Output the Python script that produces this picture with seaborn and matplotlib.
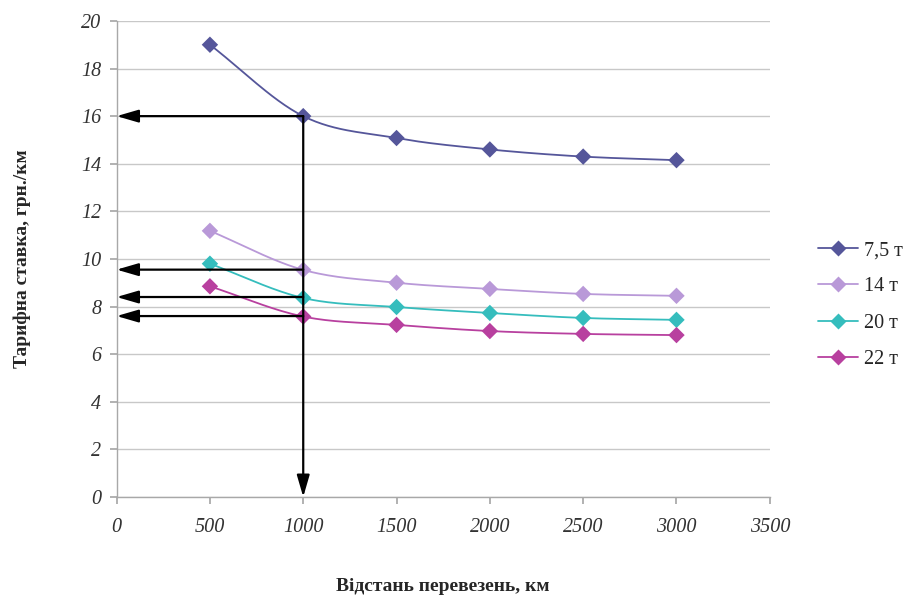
import numpy as np
import pandas as pd
import matplotlib
matplotlib.use("Agg")
import matplotlib.pyplot as plt
from matplotlib.lines import Line2D
import seaborn as sns

distance = [500, 1000, 1500, 2000, 2500, 3000]
series_names = ["7,5 т", "14 т", "20 т", "22 т"]
rate_7_5 = [19.0, 16.0, 15.08, 14.6, 14.3, 14.15]
rate_14 = [11.18, 9.54, 9.0, 8.74, 8.53, 8.45]
rate_20 = [9.8, 8.36, 7.98, 7.73, 7.52, 7.44]
rate_22 = [8.85, 7.58, 7.23, 6.97, 6.85, 6.8]
arrow_levels = [16.0, 9.55, 8.4, 7.6]
arrow_x = 1000
x_ticks = [0, 500, 1000, 1500, 2000, 2500, 3000, 3500]
y_ticks = [0, 2, 4, 6, 8, 10, 12, 14, 16, 18, 20]
colors = ["#55569A", "#B999D8", "#35BDBD", "#B8409F"]

sns.set_theme(style="white")
plt.rcParams["font.family"] = ["Liberation Serif", "DejaVu Serif"]

df = pd.DataFrame({
    "distance": distance * 4,
    "rate": rate_7_5 + rate_14 + rate_20 + rate_22,
    "series": sum([[n] * len(distance) for n in series_names], []),
})

fig = plt.figure(figsize=(9.11, 5.98), dpi=100)
ax = fig.add_axes([0.128, 0.169, 0.717, 0.796])


def catmull(xs, ys, n=30):
    xs = np.asarray(xs, float)
    ys = np.asarray(ys, float)
    px = np.concatenate([[2 * xs[0] - xs[1]], xs, [2 * xs[-1] - xs[-2]]])
    py = np.concatenate([[2 * ys[0] - ys[1]], ys, [2 * ys[-1] - ys[-2]]])
    ox, oy = [], []
    for i in range(1, len(px) - 2):
        t = np.linspace(0, 1, n, endpoint=False)
        for P, out in ((px, ox), (py, oy)):
            p0, p1, p2, p3 = P[i - 1], P[i], P[i + 1], P[i + 2]
            out.extend(0.5 * ((2 * p1) + (-p0 + p2) * t + (2 * p0 - 5 * p1 + 4 * p2 - p3) * t ** 2
                              + (-p0 + 3 * p1 - 3 * p2 + p3) * t ** 3))
    ox.append(xs[-1]); oy.append(ys[-1])
    return np.array(ox), np.array(oy)


for name, c in zip(series_names, colors):
    sub = df[df.series == name]
    sx, sy = catmull(sub.distance.values, sub.rate.values)
    ax.plot(sx, sy, color=c, lw=1.3, zorder=3)

sns.scatterplot(data=df, x="distance", y="rate", hue="series", palette=colors,
                marker="D", s=70, edgecolor="none", ax=ax, legend=False, zorder=4)

# arrows
astyle = "-|>,head_length=1.1,head_width=0.32"
for lvl in arrow_levels:
    ax.annotate("", xy=(0, lvl), xytext=(arrow_x, lvl),
                arrowprops=dict(arrowstyle=astyle, color="black", lw=1.6,
                                shrinkA=0, shrinkB=0), zorder=5)
ax.annotate("", xy=(arrow_x, 0), xytext=(arrow_x, arrow_levels[0]),
            arrowprops=dict(arrowstyle=astyle, color="black", lw=1.6,
                            shrinkA=0, shrinkB=0), zorder=5)

ax.set_xlim(0, 3500)
ax.set_ylim(0, 20)
ax.set_xticks(x_ticks)
ax.set_yticks(y_ticks)
ax.set_xticklabels([str(t) for t in x_ticks], fontstyle="italic", fontsize=14.5, color="#333333")
ax.set_yticklabels([str(t) for t in y_ticks], fontstyle="italic", fontsize=14.5, color="#333333")
ax.yaxis.grid(True, color="#C8C8C8", lw=1)
ax.xaxis.grid(False)
for s in ["top", "right"]:
    ax.spines[s].set_visible(False)
for s in ["left", "bottom"]:
    ax.spines[s].set_color("#A8A8A8")
    ax.spines[s].set_linewidth(1)
ax.tick_params(axis="both", which="both", length=5, color="#A8A8A8", direction="out",
               bottom=True, left=True)
ax.tick_params(axis="x", pad=10)
ax.tick_params(axis="y", pad=6)

ax.set_xlabel("Відстань перевезень, км", fontsize=14, fontweight="bold", labelpad=30)
ax.set_ylabel("Тарифна ставка, грн./км", fontsize=14, fontweight="bold", labelpad=36)

handles = [Line2D([0], [0], color=c, lw=1.3, marker="D", markersize=8, markeredgecolor="none")
           for c in colors]
fig.legend(handles, series_names, loc="center left", bbox_to_anchor=(0.878, 0.49),
           frameon=False, fontsize=14.5, handlelength=2.0, labelspacing=0.85, handletextpad=0.3)

fig.savefig("out.png", dpi=100)
